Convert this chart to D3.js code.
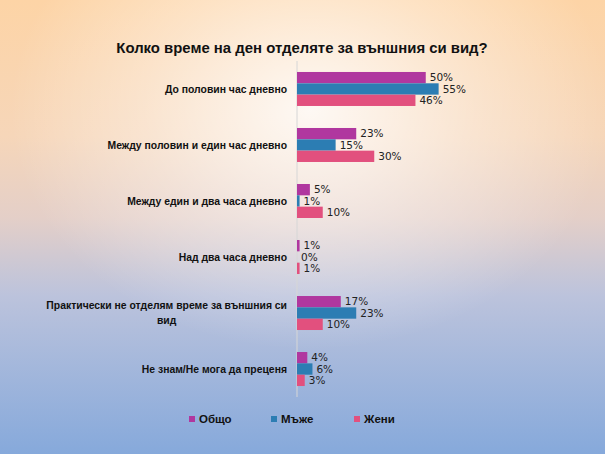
<!DOCTYPE html>
<html>
<head>
<meta charset="utf-8">
<script src="https://cdn.jsdelivr.net/npm/d3@7"></script>
<style>
  body { margin: 0; padding: 0; overflow: hidden; }
  svg { display: block; }
</style>
</head>
<body>
<div id="chart"></div>
<script>
const categories = [
    "До половин час дневно",
    "Между половин и един час дневно",
    "Между един и два часа дневно",
    "Над два часа дневно",
    "Практически не отделям време за външния си вид",
    "Не знам/Не мога да преценя"
];
const series = ["Общо", "Мъже", "Жени"];
const total = [50, 23, 5, 1, 17, 4];
const men = [55, 15, 1, 0, 23, 6];
const women = [46, 30, 10, 1, 10, 3];
const colors = ["#B0379F", "#2C7DB3", "#E2507E"];

const width = 605, height = 454;

const rows = categories.map((c, i) => ({
    category: c,
    values: [total[i], men[i], women[i]]
}));

const svg = d3.select("#chart")
    .append("svg")
    .attr("width", width)
    .attr("height", height);

// background
const defs = svg.append("defs");
const lin = defs.append("linearGradient")
    .attr("id", "bg")
    .attr("x1", 0).attr("y1", 0).attr("x2", 0).attr("y2", 1);
[["0%", "#FDD4A6"], ["30%", "#F6D6B9"], ["48%", "#E4CFC8"], ["65%", "#BCC3DC"], ["100%", "#86A9DB"]]
    .forEach(([o, c]) => lin.append("stop").attr("offset", o).attr("stop-color", c));

const rad = defs.append("radialGradient")
    .attr("id", "glow")
    .attr("gradientUnits", "userSpaceOnUse")
    .attr("cx", 310).attr("cy", 110).attr("r", 300)
    .attr("gradientTransform", "translate(310,110) scale(1,0.8) translate(-310,-110)");
rad.append("stop").attr("offset", "0%").attr("stop-color", "#FFFFFF").attr("stop-opacity", 0.85);
rad.append("stop").attr("offset", "55%").attr("stop-color", "#FFFFFF").attr("stop-opacity", 0.35);
rad.append("stop").attr("offset", "100%").attr("stop-color", "#FFFFFF").attr("stop-opacity", 0);

svg.append("rect").attr("width", width).attr("height", height).attr("fill", "url(#bg)");
svg.append("rect").attr("width", width).attr("height", height).attr("fill", "url(#glow)");

// title
svg.append("text")
    .attr("x", 302)
    .attr("y", 53)
    .attr("text-anchor", "middle")
    .style("font-family", "Liberation Sans, Arial, sans-serif")
    .style("font-weight", "bold")
    .style("font-size", "14.9px")
    .style("fill", "#111")
    .text("Колко време на ден отделяте за външния си вид?");

// scales
const x = d3.scaleLinear().domain([0, 60]).range([297, 451.5]);

const y = d3.scaleBand()
    .domain(categories)
    .range([61, 397])
    .paddingInner(0.393)
    .paddingOuter(0.196);

const ySub = d3.scaleBand()
    .domain(series)
    .range([0, y.bandwidth()]);

// axis line
svg.append("line")
    .attr("x1", x(0)).attr("x2", x(0))
    .attr("y1", 61).attr("y2", 397)
    .attr("stroke", "#D6D6D6")
    .attr("stroke-width", 1);

const groups = svg.selectAll(".group")
    .data(rows)
    .enter()
    .append("g")
    .attr("class", "group")
    .attr("transform", d => `translate(0,${y(d.category)})`);

groups.selectAll("rect")
    .data(d => d.values.map((v, i) => ({ key: series[i], value: v, color: colors[i] })))
    .enter()
    .append("rect")
    .attr("x", x(0))
    .attr("y", d => ySub(d.key))
    .attr("width", d => x(d.value) - x(0))
    .attr("height", ySub.bandwidth())
    .attr("fill", d => d.color);

groups.selectAll(".val")
    .data(d => d.values.map((v, i) => ({ key: series[i], value: v })))
    .enter()
    .append("text")
    .attr("class", "val")
    .attr("x", d => x(d.value) + 4)
    .attr("y", d => ySub(d.key) + ySub.bandwidth() / 2)
    .attr("dy", "0.36em")
    .style("font-family", "DejaVu Sans, sans-serif")
    .style("font-size", "10.5px")
    .style("fill", "#222")
    .text(d => d.value + "%");

// category labels, wrapped when too long
const labelRight = 287;
groups.each(function(d) {
    const g = d3.select(this);
    const cy = y.bandwidth() / 2;
    const words = d.category.split(" ");
    const maxW = 262;
    const t = g.append("text")
        .attr("text-anchor", "middle")
        .style("font-family", "Liberation Sans, Arial, sans-serif")
        .style("font-weight", "bold")
        .style("font-size", "10.4px")
        .style("fill", "#111");
    let lines = [];
    let line = [];
    const probe = t.append("tspan");
    words.forEach(w => {
        line.push(w);
        probe.text(line.join(" "));
        if (probe.node().getComputedTextLength() > maxW && line.length > 1) {
            line.pop();
            lines.push(line.join(" "));
            line = [w];
        }
    });
    lines.push(line.join(" "));
    probe.text(lines[0]);
    const firstW = probe.node().getComputedTextLength();
    probe.remove();
    const centerX = labelRight - firstW / 2;
    const lh = 15;
    lines.forEach((l, i) => {
        t.append("tspan")
            .attr("x", centerX)
            .attr("y", cy + (i - (lines.length - 1) / 2) * lh)
            .attr("dy", "0.35em")
            .text(l);
    });
});

// legend
const legendX = [189, 271, 354];
const legend = svg.selectAll(".legend")
    .data(series)
    .enter()
    .append("g")
    .attr("class", "legend")
    .attr("transform", (d, i) => `translate(${legendX[i]},416)`);

legend.append("rect")
    .attr("width", 6)
    .attr("height", 6)
    .attr("fill", (d, i) => colors[i]);

legend.append("text")
    .attr("x", 10)
    .attr("y", 3)
    .attr("dy", "0.36em")
    .style("font-family", "Liberation Sans, Arial, sans-serif")
    .style("font-weight", "bold")
    .style("font-size", "11.5px")
    .style("fill", "#111")
    .text(d => d);
</script>
</body>
</html>
